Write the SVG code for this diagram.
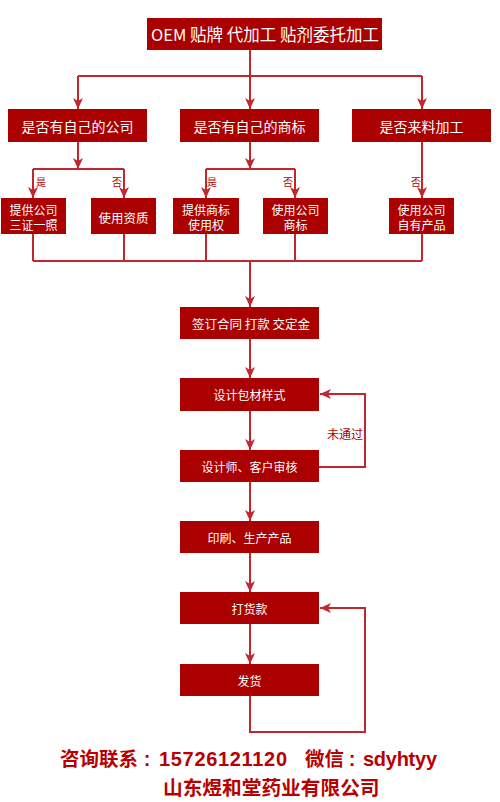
<svg xmlns="http://www.w3.org/2000/svg" width="500" height="802" viewBox="0 0 500 802">
<style>
.box{fill:#aa0000;}
.t{fill:#ffffff;font-family:"Noto Sans CJK SC","Liberation Sans",sans-serif;text-anchor:middle;dominant-baseline:central;}
.s{font-size:12px;}
.lbl{fill:#b00000;font-family:"Noto Sans CJK SC","Liberation Sans",sans-serif;font-size:10px;text-anchor:middle;dominant-baseline:central;}
.ln{fill:none;stroke:#c1272d;stroke-width:2;}
.ft{fill:#b80000;font-family:"Noto Sans CJK SC","Liberation Sans",sans-serif;font-weight:bold;font-size:19.5px;}
.fl{fill:#b80000;font-family:"Liberation Sans",sans-serif;font-weight:bold;font-size:20px;}
</style>
<defs>
<marker id="ar" markerUnits="userSpaceOnUse" markerWidth="12" markerHeight="12" viewBox="0 0 12 12" refX="11" refY="6" orient="auto">
<path d="M0,1 L11,6 L0,11 L3,6 z" fill="#c1272d"/>
</marker>
</defs>
<rect width="500" height="802" fill="#ffffff"/>
<g id="connectors">
<path class="ln" d="M250,50 V76 M78,76 H422"/>
<path class="ln" d="M78,76 V109" marker-end="url(#ar)"/>
<path class="ln" d="M250,76 V109" marker-end="url(#ar)"/>
<path class="ln" d="M422,76 V109" marker-end="url(#ar)"/>
<path class="ln" d="M78,142 V169" marker-end="url(#ar)"/>
<path class="ln" d="M33,169 H124"/>
<path class="ln" d="M33,169 V198" marker-end="url(#ar)"/>
<path class="ln" d="M124,169 V198" marker-end="url(#ar)"/>
<path class="ln" d="M250,142 V169" marker-end="url(#ar)"/>
<path class="ln" d="M206,169 H295"/>
<path class="ln" d="M206,169 V198" marker-end="url(#ar)"/>
<path class="ln" d="M295,169 V198" marker-end="url(#ar)"/>
<path class="ln" d="M422,142 V198" marker-end="url(#ar)"/>
<path class="ln" d="M33,234 V261 M124,234 V261 M206,234 V261 M295,234 V261 M422,234 V261 M33,261 H422"/>
<path class="ln" d="M250,261 V307" marker-end="url(#ar)"/>
<path class="ln" d="M250,339 V378" marker-end="url(#ar)"/>
<path class="ln" d="M250,411 V450" marker-end="url(#ar)"/>
<path class="ln" d="M250,482 V521" marker-end="url(#ar)"/>
<path class="ln" d="M250,553 V592" marker-end="url(#ar)"/>
<path class="ln" d="M250,624 V664" marker-end="url(#ar)"/>
<path class="ln" d="M319,467 H365 V394 H320" marker-end="url(#ar)"/>
<path class="ln" d="M250,696 V732 H365 V608 H320" marker-end="url(#ar)"/>
<text class="lbl" x="41" y="181">是</text>
<text class="lbl" x="117" y="181">否</text>
<text class="lbl" x="212" y="181">是</text>
<text class="lbl" x="288" y="181">否</text>
<text class="lbl" x="416" y="181">否</text>
<text class="lbl" x="345" y="433" style="font-size:12px">未通过</text>
</g>
<g id="n-top"><rect class="box" x="147" y="18" width="235" height="32"/><text class="t" x="265" y="34" style="font-size:16.5px">OEM 贴牌 代加工 贴剂委托加工</text></g>
<g id="n-company"><rect class="box" x="8" y="109" width="139" height="33"/><text class="t" x="77.5" y="125.5" style="font-size:14px">是否有自己的公司</text></g>
<g id="n-brand"><rect class="box" x="180" y="109" width="139" height="33"/><text class="t" x="249.5" y="125.5" style="font-size:14px">是否有自己的商标</text></g>
<g id="n-material"><rect class="box" x="352" y="109" width="139" height="33"/><text class="t" x="421.5" y="125.5" style="font-size:14px">是否来料加工</text></g>
<g id="n-a"><rect class="box" x="1" y="198" width="65" height="36"/><text class="t s" x="33.5" y="209">提供公司</text><text class="t s" x="33.5" y="224.5">三证一照</text></g>
<g id="n-b"><rect class="box" x="91" y="198" width="65" height="36"/><text class="t" x="123.5" y="217" style="font-size:12.5px">使用资质</text></g>
<g id="n-c"><rect class="box" x="173" y="198" width="66" height="36"/><text class="t s" x="206" y="209">提供商标</text><text class="t s" x="206" y="224.5">使用权</text></g>
<g id="n-d"><rect class="box" x="263" y="198" width="65" height="36"/><text class="t s" x="295.5" y="209">使用公司</text><text class="t s" x="295.5" y="224.5">商标</text></g>
<g id="n-e"><rect class="box" x="389" y="198" width="65" height="36"/><text class="t s" x="421.5" y="209">使用公司</text><text class="t s" x="421.5" y="224.5">自有产品</text></g>
<g id="n-contract"><rect class="box" x="180" y="307" width="139" height="32"/><text class="t" x="251" y="323" style="font-size:12.5px">签订合同 打款 交定金</text></g>
<g id="n-design"><rect class="box" x="180" y="378" width="139" height="33"/><text class="t" x="249.5" y="394.5" style="font-size:12px">设计包材样式</text></g>
<g id="n-review"><rect class="box" x="180" y="450" width="139" height="32"/><text class="t" x="249.5" y="466" style="font-size:12px">设计师、客户审核</text></g>
<g id="n-print"><rect class="box" x="180" y="521" width="139" height="32"/><text class="t" x="249.5" y="537" style="font-size:12px">印刷、生产产品</text></g>
<g id="n-pay"><rect class="box" x="180" y="592" width="139" height="32"/><text class="t" x="249.5" y="608" style="font-size:12px">打货款</text></g>
<g id="n-ship"><rect class="box" x="180" y="664" width="139" height="32"/><text class="t" x="249.5" y="680" style="font-size:12px">发货</text></g>
<g id="footer">
<text class="ft" x="60" y="766">咨询联系</text>
<text class="fl" x="147" y="766" text-anchor="middle">:</text>
<text class="fl" x="159" y="766" textLength="128" lengthAdjust="spacing">15726121120</text>
<text class="ft" x="305" y="766">微信</text>
<text class="fl" x="352" y="766" text-anchor="middle">:</text>
<text class="fl" x="363" y="766" textLength="74" lengthAdjust="spacing">sdyhtyy</text>
<text class="ft" x="163" y="795" style="font-size:19.7px">山东煜和堂药业有限公司</text>
</g>
</svg>
